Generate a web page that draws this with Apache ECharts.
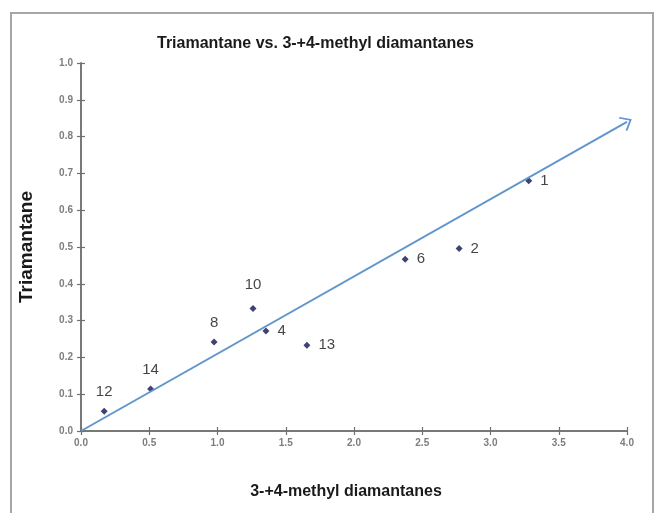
<!DOCTYPE html>
<html>
<head>
<meta charset="utf-8">
<style>
  html, body { margin: 0; padding: 0; background: #fff; }
  #chart { width: 658px; height: 513px; }
</style>
<script src="https://cdn.jsdelivr.net/npm/echarts@6/dist/echarts.min.js"></script>
</head>
<body>
<div id="chart"></div>
<script>
// Sample numbers and their measured abundances
const sampleIds = ['12', '14', '8', '10', '4', '13', '6', '2', '1'];
const methylDiamantanes = [0.17, 0.51, 0.975, 1.26, 1.355, 1.655, 2.375, 2.77, 3.28];
const triamantane = [0.054, 0.114, 0.242, 0.333, 0.272, 0.233, 0.467, 0.496, 0.680];

// Trend arrow end points (x, y)
const trendStart = [0, 0];
const trendEnd = [4.0, 0.84];

// Axis ranges and steps
const xRange = [0, 4.0, 0.5];
const yRange = [0, 1.0, 0.1];

// Samples whose numbers sit above the marker; the rest sit to its right
const labelsAbove = { '12': 8, '14': 8, '8': 8, '10': 13 };

const points = sampleIds.map((id, i) => {
  const above = labelsAbove[id];
  return {
    name: id,
    value: [methylDiamantanes[i], triamantane[i]],
    label: above !== undefined
      ? { position: 'top', distance: above }
      : { position: 'right', distance: 8 }
  };
});

const tickLabel = {
  color: '#7d7d7d', fontSize: 10, fontWeight: 'bold',
  fontFamily: 'Liberation Sans, Arial, sans-serif',
  formatter: v => v.toFixed(1)
};
const axisLineStyle = { show: true, lineStyle: { color: '#707070', width: 1.5 } };

function xAxisDef(inside, primary) {
  return {
    type: 'value', min: xRange[0], max: xRange[1], interval: xRange[2],
    position: 'bottom',
    axisLine: axisLineStyle,
    axisTick: { show: true, inside: inside, length: 4, lineStyle: { color: '#707070', width: 1.2 } },
    axisLabel: primary ? Object.assign({ margin: 7 }, tickLabel) : { show: false },
    splitLine: { show: false },
    name: primary ? '3-+4-methyl diamantanes' : '',
    nameLocation: 'middle', nameGap: 53,
    nameTextStyle: {
      color: '#1a1a1a', fontSize: 16, fontWeight: 'bold',
      fontFamily: 'Liberation Sans, Arial, sans-serif', padding: [0, 16, 0, 0]
    }
  };
}
function yAxisDef(inside, primary) {
  return {
    type: 'value', min: yRange[0], max: yRange[1], interval: yRange[2],
    position: 'left',
    axisLine: axisLineStyle,
    axisTick: { show: true, inside: inside, length: 4, lineStyle: { color: '#707070', width: 1.2 } },
    axisLabel: primary ? Object.assign({ margin: 8 }, tickLabel) : { show: false },
    splitLine: { show: false },
    name: primary ? 'Triamantane' : '',
    nameLocation: 'middle', nameGap: 45, nameRotate: 90,
    nameTextStyle: {
      color: '#1a1a1a', fontSize: 19, fontWeight: 'bold',
      fontFamily: 'Liberation Sans, Arial, sans-serif'
    }
  };
}

const chart = echarts.init(document.getElementById('chart'), null, { renderer: 'canvas' });
chart.setOption({
  backgroundColor: '#ffffff',
  animation: false,
  title: {
    text: 'Triamantane vs. 3-+4-methyl diamantanes',
    left: 152, top: 31,
    textStyle: { color: '#1a1a1a', fontSize: 16, fontWeight: 'bold', fontFamily: 'Liberation Sans, Arial, sans-serif' }
  },
  graphic: [{
    type: 'rect', silent: true, z: -1,
    shape: { x: 11, y: 13, width: 642, height: 520 },
    style: { fill: null, stroke: '#a6a6a6', lineWidth: 2 }
  }],
  grid: { left: 81, right: 31, top: 63, bottom: 82 },
  xAxis: [xAxisDef(false, true), xAxisDef(true, false)],
  yAxis: [yAxisDef(false, true), yAxisDef(true, false)],
  series: [{
    type: 'scatter',
    xAxisIndex: 0, yAxisIndex: 0,
    symbol: 'diamond', symbolSize: 7,
    itemStyle: { color: '#0e1450' },
    label: {
      show: true, formatter: '{b}', color: '#141414', fontSize: 15,
      fontFamily: 'Liberation Sans Narrow, Liberation Sans, Arial, sans-serif'
    },
    data: points,
    markLine: {
      silent: true, animation: false,
      symbol: ['none', 'path://M0,0 L10,9 L8.6,10.4 L0,2.6 L-8.6,10.4 L-10,9 Z'],
      symbolSize: [16, 11],
      label: { show: false },
      lineStyle: { color: '#6196cc', width: 2, type: 'solid' },
      data: [[{ coord: trendStart }, { coord: trendEnd }]]
    }
  }]
});
</script>
</body>
</html>
